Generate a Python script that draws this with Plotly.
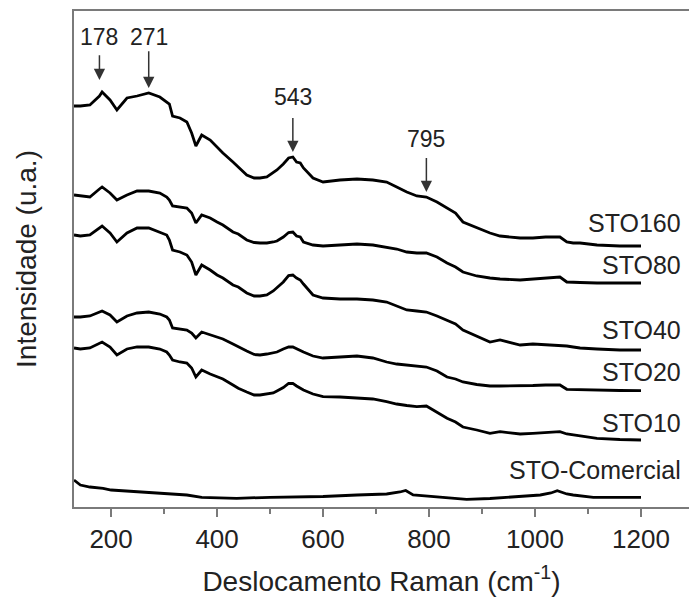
import plotly.graph_objects as go

# Raman shift grid (cm-1) shared by the hydrothermal STO samples
shift = [130, 142, 160, 178, 183, 198, 211, 230, 249, 271, 292, 305, 310, 316, 330,
         343, 352, 360, 371, 387, 400, 411, 430, 440, 456, 470, 481, 494, 506, 513,
         525, 535, 543, 550, 557, 563, 581, 600, 632, 664, 694, 720, 739, 758, 777,
         795, 815, 834, 850, 864, 890, 915, 934, 972, 996, 1020, 1047, 1060, 1072,
         1085, 1117, 1160, 1200]

# Stacked intensities (a.u., vertical offsets included)
sto160 = [401, 401, 402, 411, 415, 407, 397, 409, 411, 414, 410, 405, 403, 391, 389,
          385, 374, 361, 372, 367, 360, 354, 345, 340, 332, 329, 329, 330, 334, 337,
          343, 349, 350, 345, 344, 339, 329, 325, 327, 328, 327, 325, 320, 315, 311,
          310, 305, 299, 294, 285, 279, 274, 271, 269, 269, 270, 270, 265, 264,
          264, 262, 261, 261]
sto80 = [312, 311, 310, 318, 320, 314, 307, 312, 316, 316, 314, 310, 307, 301, 300,
         299, 294, 284, 292, 289, 285, 282, 275, 273, 267, 264.5, 264, 264, 265, 266,
         270, 274.5, 275, 271, 270, 265, 262, 261, 262, 263, 262, 260, 258, 255, 254,
         254, 250, 244, 240, 235, 231, 229, 228, 227, 228, 229, 230, 225, 225,
         224.5, 224, 224, 224]
sto40 = [272, 271, 272, 279, 281, 274, 265, 274, 279, 279, 275, 272, 267, 257, 255,
         252, 245, 232, 242, 237, 232, 229, 222, 220, 214, 211, 211, 212, 216, 219,
         225, 231.5, 232, 229, 227, 223, 212, 209, 208, 208, 207, 205, 201, 197, 196,
         195, 191, 187, 183, 177, 171, 165, 167, 162, 163, 162.5, 162, 161, 160,
         159, 158, 157, 157]
sto20 = [190, 190, 191, 195.5, 196, 192, 185, 191, 194, 195, 193, 190, 187, 179, 178,
         177, 174, 169, 175, 172, 170, 168, 163, 160, 156, 152.5, 152, 153, 154, 155,
         158, 160, 160, 158, 156, 155, 151, 149, 150, 151, 149, 145, 143, 142, 141,
         140, 136, 130, 128, 125, 122.5, 121, 121, 121, 121.5, 122, 122, 117.7, 117.5,
         117.3, 117, 116.5, 116.3]
sto10 = [159, 158, 159, 164, 165, 160, 152, 158, 160, 160, 158, 155, 152, 147, 145,
         144, 139, 130, 137, 133, 130.5, 128, 122, 118.7, 115, 112, 112, 113, 114, 116,
         119.5, 123.5, 123.7, 121, 118.7, 117, 113, 110.3, 110, 109.3, 108, 105.3, 103, 101.5, 100.3,
         101, 95, 88.7, 85, 80, 77, 73.7, 75.3, 73, 73.7, 74.5, 75.3, 73, 72,
         71, 68.7, 67.5, 67]

# Commercial SrTiO3 reference spectrum
shift_com = [130, 142, 160, 185, 200, 249, 305, 343, 371, 437, 500, 557, 600, 664,
             720, 745, 756, 770, 790, 834, 871, 915, 946, 1010, 1030, 1042, 1060,
             1072, 1110, 1160, 1200]
sto_com = [27, 22, 20, 18.7, 17, 15.3, 13.7, 12, 9.7, 8.7, 9.7, 10.3, 10.5, 12,
           13, 15, 16.5, 12, 11, 9, 7.7, 8.5, 9.7, 12, 14, 16.3, 13,
           12, 9.7, 9.7, 9.7]

series_names = ["STO160", "STO80", "STO40", "STO20", "STO10", "STO-Comercial"]
series_x = [shift, shift, shift, shift, shift, shift_com]
series_y = [sto160, sto80, sto40, sto20, sto10, sto_com]
label_y = [283.7, 242, 177, 135.3, 84.3, 37]

# Marked Raman bands: position, label height and arrow tip height
band_pos = [178, 271, 543, 795]
band_label_y = [470.3, 470.3, 410.5, 368.5]
band_tip_y = [427, 419, 355, 315]
band_gap = [5, 1, 8, 6]  # room between each band label and its arrow, px

FONT = "Liberation Sans, Arial, sans-serif"
AXIS_GRAY = "#7a7a7a"

fig = go.Figure()
for name, xs, ys in zip(series_names, series_x, series_y):
    fig.add_trace(go.Scatter(x=xs, y=ys, mode="lines", name=name,
                             line=dict(color="black", width=2.8), showlegend=False))

annotations = []
for name, ly in zip(series_names, label_y):
    annotations.append(dict(x=1280, y=ly, xref="x", yref="y", text=name, showarrow=False,
                            xanchor="right", yanchor="middle",
                            font=dict(family=FONT, size=25, color="#222")))
for pos, ly, tip, gap in zip(band_pos, band_label_y, band_tip_y, band_gap):
    annotations.append(dict(x=pos, y=tip, ax=pos, ay=ly, xref="x", yref="y",
                            axref="x", ayref="y", text=str(pos), showarrow=True,
                            borderpad=gap, arrowhead=2, arrowsize=1.5, arrowwidth=1.5,
                            arrowcolor="#333",
                            font=dict(family=FONT, size=23, color="#222")))

fig.update_layout(
    width=689, height=608,
    margin=dict(l=74, r=0, t=11, b=101),
    paper_bgcolor="white", plot_bgcolor="white",
    annotations=annotations,
    font=dict(family=FONT, color="#222"),
)
fig.update_xaxes(
    range=[130, 1290.6], showgrid=False, zeroline=False,
    showline=True, linecolor=AXIS_GRAY, linewidth=2, mirror=True,
    tickmode="array", tickvals=[200, 400, 600, 800, 1000, 1200],
    ticks="outside", ticklen=8, tickwidth=2, tickcolor=AXIS_GRAY,
    minor=dict(tickvals=[300, 500, 700, 900, 1100], ticks="outside", ticklen=5,
               tickwidth=2, tickcolor=AXIS_GRAY),
    tickfont=dict(family=FONT, size=26, color="#222"),
    title=dict(text="Deslocamento Raman (cm<sup>-1</sup>)",
               font=dict(family=FONT, size=28, color="#222"), standoff=18),
)
fig.update_yaxes(
    range=[0, 496], showgrid=False, zeroline=False,
    showline=True, linecolor=AXIS_GRAY, linewidth=2, mirror=False,
    showticklabels=False, ticks="",
    title=dict(text="Intensidade (u.a.)",
               font=dict(family=FONT, size=28, color="#222"), standoff=27),
)

fig.write_html("out.html")
